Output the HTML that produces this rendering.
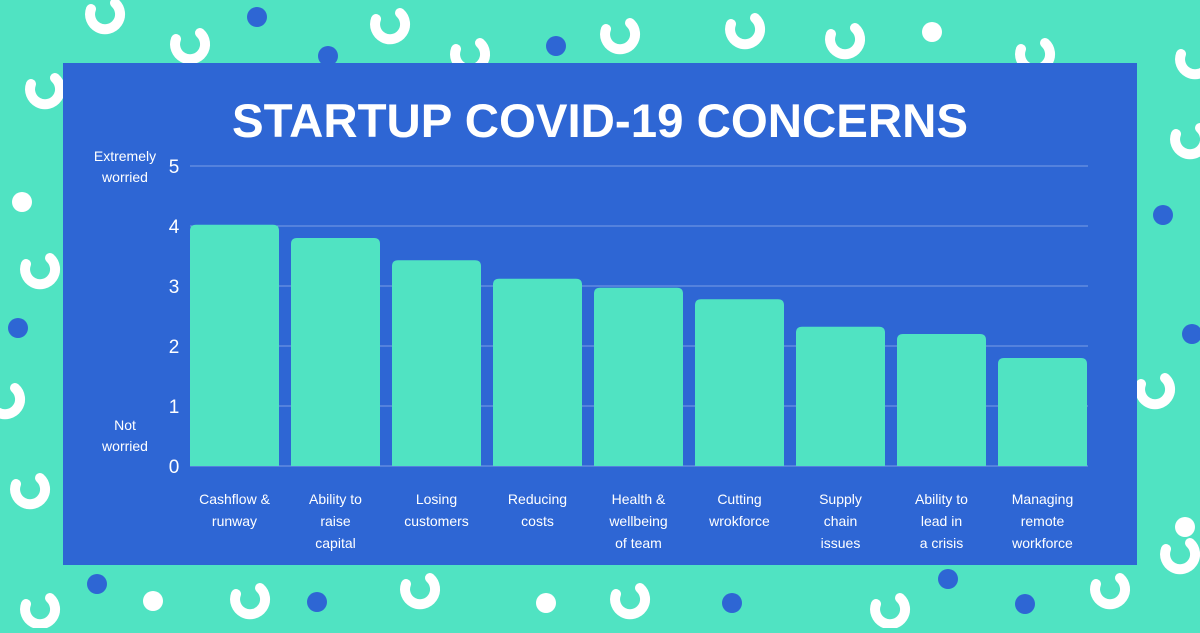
<!DOCTYPE html>
<html><head><meta charset="utf-8"><style>
body{margin:0;width:1200px;height:628px;overflow:hidden;background:#50e3c2;font-family:"Liberation Sans",sans-serif}
</style></head><body>
<svg width="1200" height="628" viewBox="0 0 1200 628">
<g id="deco"></g>
<rect x="63" y="63" width="1074" height="502" fill="#2e66d4"/>
<text x="600" y="137" text-anchor="middle" fill="#fff" font-size="47" font-weight="bold" textLength="736" lengthAdjust="spacingAndGlyphs">STARTUP COVID-19 CONCERNS</text>
<text x="125" y="161" text-anchor="middle" fill="#fff" font-size="14"><tspan x="125">Extremely</tspan><tspan x="125" dy="21">worried</tspan></text>
<text x="125" y="430" text-anchor="middle" fill="#fff" font-size="14"><tspan x="125">Not</tspan><tspan x="125" dy="21">worried</tspan></text>
<g id="plot"></g>
</svg>
<script>
const categories=[["Cashflow &","runway"],["Ability to","raise","capital"],["Losing","customers"],["Reducing","costs"],["Health &","wellbeing","of team"],["Cutting","wrokforce"],["Supply","chain","issues"],["Ability to","lead in","a crisis"],["Managing","remote","workforce"]];
const values=[4.02,3.8,3.43,3.12,2.97,2.78,2.32,2.2,1.8];
const yTicks=[0,1,2,3,4,5];
const NS="http://www.w3.org/2000/svg";
const plot=document.getElementById('plot');
const y=v=>466-v*60;
const x0=190,step=101,bw=89;
function mk(t,a){const e=document.createElementNS(NS,t);for(const k in a)e.setAttribute(k,a[k]);return e;}
yTicks.forEach(t=>{
 const l=mk('line',{x1:190,x2:1088,y1:y(t),y2:y(t),stroke:'#7a9ee6','stroke-width':1});
 
 
 plot.appendChild(l);
 const tx=mk('text',{x:174,y:y(t)+7,'text-anchor':'middle',fill:'#fff','font-size':19});
 
 
 tx.textContent=t;plot.appendChild(tx);
});
values.forEach((v,i)=>{
 const bx=x0+i*step;
 const p=mk('path',{d:`M${bx},466 V${y(v)+6} Q${bx},${y(v)} ${bx+6},${y(v)} H${bx+bw-6} Q${bx+bw},${y(v)} ${bx+bw},${y(v)+6} V466 Z`,fill:'#50e3c2'});
 
 
 plot.appendChild(p);
 const tx=mk('text',{x:bx+bw/2,y:504,'text-anchor':'middle',fill:'#fff','font-size':14});
 
 
 categories[i].forEach((s,j)=>{const ts=mk('tspan',{x:bx+bw/2,dy:j?22:0});ts.textContent=s;tx.appendChild(ts);});
 plot.appendChild(tx);
});
const deco=document.getElementById('deco');
const dots=[[257,17,'#2e66d4'],[328,56,'#2e66d4'],[556,46,'#2e66d4'],[932,32,'#fff'],[1163,215,'#2e66d4'],[1192,334,'#2e66d4'],[18,328,'#2e66d4'],[22,202,'#fff'],[97,584,'#2e66d4'],[153,601,'#fff'],[317,602,'#2e66d4'],[546,603,'#fff'],[732,603,'#2e66d4'],[948,579,'#2e66d4'],[1025,604,'#2e66d4'],[1185,527,'#fff']];
dots.forEach(d=>{const c=mk('circle',{cx:d[0],cy:d[1],r:10,fill:d[2]});deco.appendChild(c);});
const arcs=[[105,15],[190,45],[390,25],[470,55],[620,35],[745,30],[845,40],[1035,55],[1195,60],[1190,140],[45,90],[40,270],[5,400],[30,490],[1155,390],[1180,555],[630,600],[890,610],[420,590],[250,600],[40,610],[1110,590]];
arcs.forEach(a=>{const p=mk('path',{d:`M${a[0]-14},${a[1]-6} A15,15 0 1 0 ${a[0]+10},${a[1]-12}`,fill:'none',stroke:'#fff','stroke-width':10,'stroke-linecap':'round'});deco.appendChild(p);});
</script>
</body></html>
